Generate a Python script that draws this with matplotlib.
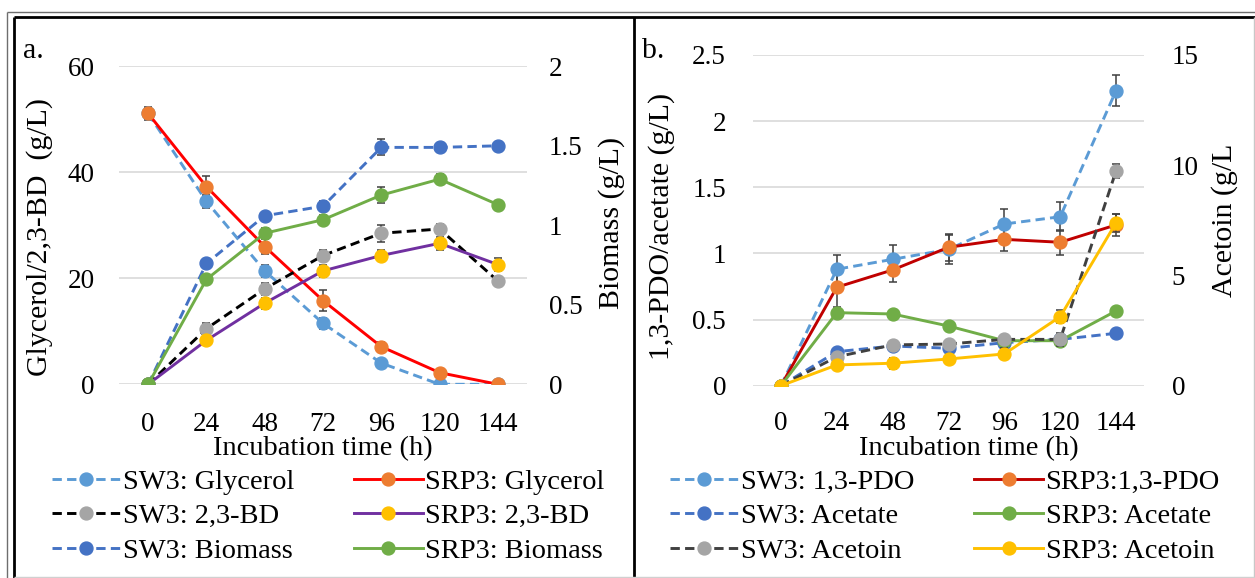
import matplotlib
matplotlib.use("Agg")
import matplotlib.pyplot as plt
from matplotlib.lines import Line2D

plt.rcParams['font.family'] = ['Liberation Serif', 'DejaVu Serif']

W, H, DPI = 1255, 578, 100

# ---------------- data ----------------
hours = [0, 24, 48, 72, 96, 120, 144]
hour_labels = ['0', '24', '48', '72', '96', '120', '144']

# panel a: glycerol / 2,3-BD (left axis), biomass (right axis), g/L
sw3_glycerol = [51.1, 34.5, 21.4, 11.5, 4.0, 0.0, 0.0]
sw3_glycerol_err = [1.0, 1.3, 1.2, 1.0, 0.8, 0.3, 0.3]
srp3_glycerol = [51.1, 37.3, 26.0, 15.8, 7.1, 2.2, 0.0]
srp3_glycerol_err = [1.2, 2.0, 1.5, 1.9, 0.8, 0.5, 0.3]
sw3_bd = [0.0, 10.5, 18.0, 24.3, 28.5, 29.3, 19.5]
sw3_bd_err = [0.0, 1.1, 1.2, 1.0, 1.6, 1.0, 0.8]
srp3_bd = [0.0, 8.3, 15.3, 21.4, 24.3, 26.6, 22.6]
srp3_bd_err = [0.0, 0.9, 1.0, 1.1, 1.0, 1.2, 1.2]
sw3_biomass = [0.0, 0.76, 1.06, 1.12, 1.49, 1.49, 1.50]
sw3_biomass_err = [0.0, 0.03, 0.02, 0.03, 0.05, 0.03, 0.02]
srp3_biomass = [0.0, 0.66, 0.95, 1.035, 1.19, 1.29, 1.13]
srp3_biomass_err = [0.0, 0.03, 0.03, 0.03, 0.05, 0.03, 0.02]

a_left_ticks = [0, 20, 40, 60]
a_left_labels = ['0', '20', '40', '60']
a_right_ticks = [0, 0.5, 1, 1.5, 2]
a_right_labels = ['0', '0.5', '1', '1.5', '2']

# panel b: 1,3-PDO / acetate (left axis), acetoin (right axis), g/L
sw3_pdo = [0.0, 0.88, 0.955, 1.03, 1.222, 1.277, 2.23]
sw3_pdo_err = [0.0, 0.11, 0.11, 0.11, 0.11, 0.11, 0.115]
srp3_pdo = [0.0, 0.744, 0.875, 1.046, 1.106, 1.084, 1.215]
srp3_pdo_err = [0.0, 0.15, 0.095, 0.10, 0.09, 0.095, 0.08]
sw3_acetate = [0.0, 0.257, 0.30, 0.283, 0.325, 0.35, 0.396]
sw3_acetate_err = [0.0, 0.01, 0.01, 0.01, 0.01, 0.01, 0.01]
srp3_acetate = [0.0, 0.552, 0.542, 0.451, 0.34, 0.34, 0.565]
srp3_acetate_err = [0.0, 0.01, 0.01, 0.01, 0.01, 0.01, 0.01]
sw3_acetoin = [0.0, 1.31, 1.85, 1.89, 2.10, 2.10, 9.74]
sw3_acetoin_err = [0.0, 0.10, 0.15, 0.15, 0.15, 0.30, 0.30]
srp3_acetoin = [0.0, 0.94, 1.02, 1.21, 1.44, 3.13, 7.39]
srp3_acetoin_err = [0.0, 0.15, 0.25, 0.15, 0.25, 0.30, 0.40]

b_left_ticks = [0, 0.5, 1, 1.5, 2, 2.5]
b_left_labels = ['0', '0.5', '1', '1.5', '2', '2.5']
b_right_ticks = [0, 5, 10, 15]
b_right_labels = ['0', '5', '10', '15']

# ---------------- styling ----------------
TICK_FS = 19.5
LABEL_FS = 21.5
XLABEL_FS = 20.5
LEGEND_FS = 20.5
GRID_C = '#D9D9D9'
ERR_C = '#3F3F3F'
DASH = (0, (3.2, 1.8))

fig = plt.figure(figsize=(W / DPI, H / DPI), dpi=DPI)
fig.patch.set_facecolor('white')


def px_axes(left, right, top, bottom):
    return fig.add_axes([left / W, 1 - bottom / H, (right - left) / W, (bottom - top) / H])


def clean(ax):
    for s in ax.spines.values():
        s.set_visible(False)
    ax.tick_params(length=0, labelsize=TICK_FS, colors='black')


def series(ax, y, err, line_c, marker_c, dashed, label):
    ax.errorbar(hours, y, yerr=err, fmt='none', ecolor=ERR_C, elinewidth=1.1,
                capsize=3.2, capthick=1.1, zorder=2)
    h, = ax.plot(hours, y, color=line_c, lw=2.1, ls=DASH if dashed else '-',
                 marker='o', ms=9.3, mfc=marker_c, mec=marker_c, label=label, zorder=3)
    return h


# ---------------- panel a ----------------
ax_a = px_axes(119, 527, 66.3, 384.3)
ax_a2 = ax_a.twinx()
for ax in (ax_a, ax_a2):
    clean(ax)
    ax.set_xlim(-12, 156)
ax_a.set_ylim(0, 60)
ax_a2.set_ylim(0, 2)
ax_a.set_yticks(a_left_ticks, a_left_labels)
ax_a2.set_yticks(a_right_ticks, a_right_labels)
ax_a.set_xticks(hours, hour_labels)
ax_a.grid(axis='y', color=GRID_C, lw=1.2)
ax_a.set_axisbelow(True)
ax_a.tick_params(axis='y', pad=17.3)
ax_a2.tick_params(axis='y', pad=15.8)
ax_a.tick_params(axis='x', pad=19.7)

h_a = [
    series(ax_a, sw3_glycerol, sw3_glycerol_err, '#5B9BD5', '#5B9BD5', True, 'SW3: Glycerol'),
    series(ax_a, srp3_glycerol, srp3_glycerol_err, '#FF0000', '#ED7D31', False, 'SRP3: Glycerol'),
    series(ax_a, sw3_bd, sw3_bd_err, '#000000', '#A5A5A5', True, 'SW3: 2,3-BD'),
    series(ax_a, srp3_bd, srp3_bd_err, '#7030A0', '#FFC000', False, 'SRP3: 2,3-BD'),
    series(ax_a2, sw3_biomass, sw3_biomass_err, '#4472C4', '#4472C4', True, 'SW3: Biomass'),
    series(ax_a2, srp3_biomass, srp3_biomass_err, '#70AD47', '#70AD47', False, 'SRP3: Biomass'),
]

ax_a.set_xlabel('Incubation time (h)', fontsize=XLABEL_FS)
ax_a.xaxis.set_label_coords(0.5, -0.163)
ax_a.set_ylabel('Glycerol/2,3-BD  (g/L)', fontsize=LABEL_FS)
ax_a.yaxis.label.set_va('center')
ax_a.yaxis.set_label_coords(-0.1936, 0.463)
ax_a2.set_ylabel('Biomass (g/L)', fontsize=LABEL_FS)
ax_a2.yaxis.label.set_va('center')
ax_a2.yaxis.set_label_coords(1.208, 0.507)

# ---------------- panel b ----------------
ax_b = px_axes(753, 1144, 54.9, 385.7)
ax_b2 = ax_b.twinx()
for ax in (ax_b, ax_b2):
    clean(ax)
    ax.set_xlim(-12, 156)
ax_b.set_ylim(0, 2.5)
ax_b2.set_ylim(0, 15)
ax_b.set_yticks(b_left_ticks, b_left_labels)
ax_b2.set_yticks(b_right_ticks, b_right_labels)
ax_b.set_xticks(hours, hour_labels)
ax_b.grid(axis='y', color=GRID_C, lw=1.2)
ax_b.set_axisbelow(True)
ax_b.tick_params(axis='y', pad=19.4)
ax_b2.tick_params(axis='y', pad=20.0)
ax_b.tick_params(axis='x', pad=18.5)

h_b = [
    series(ax_b, sw3_pdo, sw3_pdo_err, '#5B9BD5', '#5B9BD5', True, 'SW3: 1,3-PDO'),
    series(ax_b, srp3_pdo, srp3_pdo_err, '#C00000', '#ED7D31', False, 'SRP3:1,3-PDO'),
    series(ax_b, sw3_acetate, sw3_acetate_err, '#4472C4', '#4472C4', True, 'SW3: Acetate'),
    series(ax_b, srp3_acetate, srp3_acetate_err, '#70AD47', '#70AD47', False, 'SRP3: Acetate'),
    series(ax_b2, sw3_acetoin, sw3_acetoin_err, '#404040', '#A5A5A5', True, 'SW3: Acetoin'),
    series(ax_b2, srp3_acetoin, srp3_acetoin_err, '#FFC000', '#FFC000', False, 'SRP3: Acetoin'),
]

ax_b.set_xlabel('Incubation time (h)', fontsize=XLABEL_FS)
ax_b.xaxis.set_label_coords(0.552, -0.151)
ax_b.set_ylabel('1,3-PDO/acetate (g/L)', fontsize=LABEL_FS)
ax_b.yaxis.label.set_va('center')
ax_b.yaxis.set_label_coords(-0.2327, 0.48)
ax_b2.set_ylabel('Acetoin (g/L', fontsize=LABEL_FS)
ax_b2.yaxis.label.set_va('center')
ax_b2.yaxis.set_label_coords(1.207, 0.501)

# ---------------- legends ----------------
leg_kw = dict(loc='upper left', ncol=2, frameon=False, fontsize=LEGEND_FS,
              handlelength=2.4, handletextpad=0.1, columnspacing=2.1,
              labelspacing=0.3, borderpad=0, borderaxespad=0, numpoints=1)
order = [0, 2, 4, 1, 3, 5]
fig.legend(handles=[h_a[i] for i in order], bbox_to_anchor=(52 / W, 1 - 469 / H), **leg_kw)
fig.legend(handles=[h_b[i] for i in order], bbox_to_anchor=(670 / W, 1 - 469 / H), **leg_kw)

# ---------------- panel letters ----------------
fig.text(23 / W, 1 - 58 / H, 'a.', fontsize=21.5, va='baseline', ha='left')
fig.text(642 / W, 1 - 58 / H, 'b.', fontsize=21.5, va='baseline', ha='left')

# ---------------- frame lines ----------------
def fline(x0, y0, x1, y1, color, lw):
    fig.add_artist(Line2D([x0 / W, x1 / W], [1 - y0 / H, 1 - y1 / H],
                          color=color, lw=lw, solid_capstyle='butt'))

fline(7, 12, 7, H, '#6E6E6E', 1.0)
fline(7, 12, W, 12, '#6E6E6E', 1.0)
fline(14, 16.5, 14, H, '#000000', 2.0)
fline(14, 16.5, W, 16.5, '#000000', 2.0)
fline(633.5, 16.5, 633.5, H, '#000000', 2.0)
fline(1254, 16.5, 1254, H, '#C8C8C8', 1.0)
fline(14, 576.5, W, 576.5, '#D0D0D0', 1.0)

fig.savefig('out.png', dpi=DPI, facecolor='white')
